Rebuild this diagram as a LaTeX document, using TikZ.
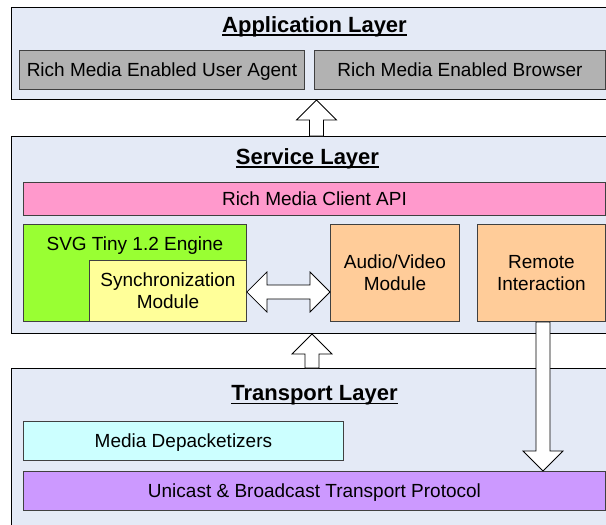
\documentclass[tikz,border=0pt]{standalone}
\usepackage{fontspec}
\setmainfont{Liberation Sans}
\usetikzlibrary{positioning, calc}
\definecolor{colLayer}{RGB}{228, 234, 246}
\definecolor{colEdge}{RGB}{64, 64, 64}
\definecolor{colGray}{RGB}{178, 178, 178}
\definecolor{colPink}{RGB}{255, 153, 204}
\definecolor{colGreen}{RGB}{153, 255, 51}
\definecolor{colYellow}{RGB}{255, 255, 153}
\definecolor{colOrange}{RGB}{255, 204, 153}
\definecolor{colCyan}{RGB}{204, 255, 255}
\definecolor{colPurple}{RGB}{204, 153, 255}
% thick underline for the layer titles
\newcommand{\lyrul}[1]{\setbox0=\hbox{#1}\leavevmode\rlap{\vrule height -2.2pt depth 4pt width \wd0}\box0}

\begin{document}
\begin{tikzpicture}[x=1pt, y=-1pt,
    every node/.style={font=\fontsize{19}{22}\selectfont},
    layer/.style={draw=black, fill=colLayer, line width=1pt, anchor=north west,
        minimum width=606pt, inner sep=0pt},
    box/.style={draw=colEdge, line width=0.9pt, anchor=north west, inner sep=0pt, align=center},
    oneline/.style={text height=13.6pt, text depth=0pt},
    title/.style={font=\fontsize{22}{26}\selectfont\bfseries, inner sep=0pt},
    upblock/.style={draw=black, fill=white, line width=0.8pt,
        to path={let \p1=(\tikztostart), \p2=(\tikztotarget) in
            (\x1-7pt,\y1) -- (\x1-7pt,\y2-20pt) -- (\x1-20pt,\y2-20pt) -- (\x1,\y2)
            -- (\x1+20pt,\y2-20pt) -- (\x1+7pt,\y2-20pt) -- (\x1+7pt,\y1) -- cycle}},
    downblock/.style={draw=black, fill=white, line width=0.8pt,
        to path={let \p1=(\tikztostart), \p2=(\tikztotarget) in
            (\x1-7pt,\y1) -- (\x1-7pt,\y2+20pt) -- (\x1-20pt,\y2+20pt) -- (\x1,\y2)
            -- (\x1+20pt,\y2+20pt) -- (\x1+7pt,\y2+20pt) -- (\x1+7pt,\y1) -- cycle}},
    dblock/.style={draw=black, fill=white, line width=0.8pt,
        to path={let \p1=(\tikztostart), \p2=(\tikztotarget) in
            (\x1,\y1) -- (\x1+20pt,\y1+20pt) -- (\x1+20pt,\y1+7pt) -- (\x2-20pt,\y1+7pt)
            -- (\x2-20pt,\y1+20pt) -- (\x2,\y1) -- (\x2-20pt,\y1-20pt) -- (\x2-20pt,\y1-7pt)
            -- (\x1+20pt,\y1-7pt) -- (\x1+20pt,\y1-20pt) -- cycle}}]
    \useasboundingbox (0,0) rectangle (606,525);

    % --- Application Layer ---
    \node[layer, minimum height=92pt] (app) at (11,7) {};
    \node[title, below=9pt of app.north] (appT) {\lyrul{Application Layer}};
    \node[box, oneline, fill=colGray, minimum width=285pt, minimum height=39pt] (agent) at (19,50) {Rich Media Enabled User Agent};
    \node[box, oneline, fill=colGray, minimum width=291pt, minimum height=39pt] (browser) at (314,50) {Rich Media Enabled Browser};

    % --- Service Layer ---
    \node[layer, minimum height=197pt] (svc) at (11,136) {};
    \node[title, below=12pt of svc.north, xshift=-7pt] (svcT) {\lyrul{Service Layer}};
    \node[box, oneline, fill=colPink, minimum width=582pt, minimum height=33pt] (api) at (23,182) {Rich Media Client API};
    \node[box, fill=colGreen, minimum width=223pt, minimum height=97pt] (svg) at (23,224) {};
    \node[inner sep=0pt, below=13pt of svg.north] (svgT) {SVG Tiny 1.2 Engine};
    \node[box, fill=colYellow, minimum width=157pt, minimum height=61pt] (sync) at (89,260) {Synchronization\\Module};
    \node[box, fill=colOrange, minimum width=129pt, minimum height=97pt] (av) at (330,224) {Audio/Video\\Module};
    \node[box, fill=colOrange, minimum width=128pt, minimum height=97pt] (remote) at (477,224) {Remote\\Interaction};

    % --- Transport Layer ---
    \node[layer, minimum height=170pt] (trans) at (11,368) {};
    \node[title, below=17pt of trans.north] (transT) {\lyrul{Transport Layer}};
    \node[box, oneline, fill=colCyan, minimum width=320pt, minimum height=39pt] (depack) at (23,421) {Media Depacketizers};
    \node[box, oneline, fill=colPurple, minimum width=582pt, minimum height=39pt] (ubtp) at (23,471) {Unicast \& Broadcast Transport Protocol};

    % --- Block arrows ---
    \coordinate (upA) at (316.5,0);
    \coordinate (upB) at (312,0);
    \coordinate (dnA) at (543,0);
    \coordinate (dbA) at (0,292);
    \draw[upblock] (svc.north -| upA) to (app.south -| upA);
    \draw[upblock] (trans.north -| upB) to (svc.south -| upB);
    \draw[dblock] (sync.east |- dbA) to (av.west |- dbA);
    \draw[downblock] (remote.south -| dnA) to (ubtp.north -| dnA);
\end{tikzpicture}
\end{document}
